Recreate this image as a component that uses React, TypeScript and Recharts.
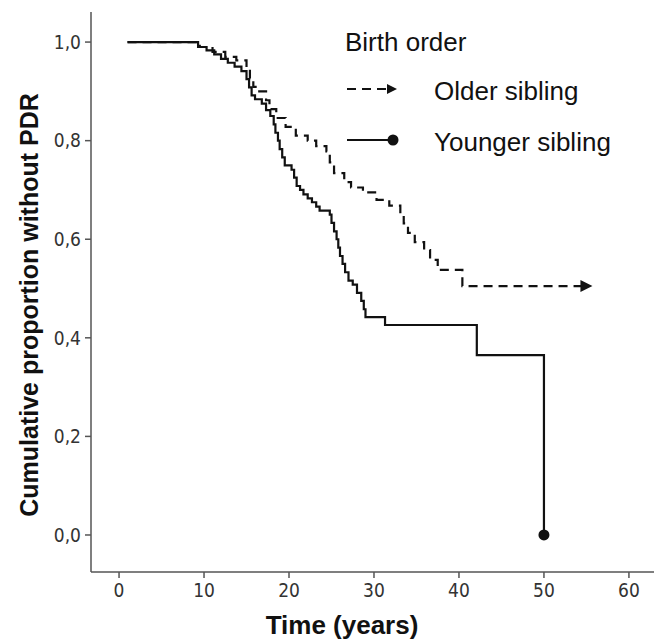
import React from 'react';
import { LineChart, Line, XAxis, YAxis, Legend, Label } from 'recharts';

// Kaplan–Meier steps: time in years, cumulative proportion without PDR
const olderTimes = [1, 9.5, 11.0, 12.5, 13.8, 15.0, 15.4, 15.8, 16.5, 17.3, 17.7, 18.5, 19.6, 20.8, 22.2, 23.2, 24.4, 24.8, 25.3, 26.5, 27.3, 28.7, 30.3, 31.8, 33.1, 33.5, 34.0, 34.8, 35.9, 36.6, 37.5, 40.4, 55];
const olderSurv = [1.0, 0.99, 0.98, 0.97, 0.963, 0.945, 0.927, 0.909, 0.9, 0.882, 0.864, 0.846, 0.828, 0.81, 0.8, 0.789, 0.778, 0.756, 0.734, 0.716, 0.705, 0.695, 0.68, 0.668, 0.652, 0.632, 0.613, 0.594, 0.578, 0.558, 0.538, 0.505, 0.505];

const youngerTimes = [1, 9.3, 10.3, 11.2, 12.0, 12.8, 13.6, 14.4, 15.0, 15.3, 15.6, 16.0, 16.8, 17.3, 17.8, 18.2, 18.4, 18.7, 18.9, 19.2, 19.5, 20.3, 20.6, 20.9, 21.3, 21.7, 22.2, 22.7, 23.2, 23.6, 24.8, 25.0, 25.3, 25.6, 25.8, 26.0, 26.3, 26.6, 27.0, 27.5, 28.0, 28.5, 28.8, 29.0, 31.3, 42.1, 50];
const youngerSurv = [1.0, 0.99, 0.983, 0.975, 0.966, 0.958, 0.95, 0.941, 0.925, 0.908, 0.892, 0.884, 0.875, 0.862, 0.85, 0.833, 0.816, 0.8, 0.783, 0.766, 0.75, 0.741, 0.725, 0.708, 0.7, 0.691, 0.683, 0.675, 0.666, 0.658, 0.65, 0.633, 0.616, 0.6, 0.583, 0.566, 0.55, 0.533, 0.516, 0.508, 0.491, 0.475, 0.458, 0.442, 0.426, 0.365, 0.0];

const xTicks = [0, 10, 20, 30, 40, 50, 60];
const yTicks = [0, 0.2, 0.4, 0.6, 0.8, 1.0];

const legendTitle = 'Birth order';
const olderName = 'Older sibling';
const youngerName = 'Younger sibling';

const olderData = olderTimes.map((t, i) => ({ t, s: olderSurv[i] }));
const youngerData = youngerTimes.map((t, i) => ({ t, s: youngerSurv[i] }));

const INK = '#111';
const AXIS = '#555';
const tickFont = "'Liberation Sans Narrow', 'DejaVu Sans Condensed', 'Liberation Sans', sans-serif";
const textFont = "'Liberation Sans', Arial, sans-serif";

const fmt = (v: number) => v.toFixed(1).replace('.', ',');

const ArrowEnd = (props: any) => {
  const { cx, cy, index } = props;
  if (index !== olderData.length - 1) return <g key={`o${index}`} />;
  return <polygon key={`o${index}`} points={`${cx - 6},${cy - 6} ${cx + 6},${cy} ${cx - 6},${cy + 6}`} fill={INK} />;
};

const DotEnd = (props: any) => {
  const { cx, cy, index } = props;
  if (index !== youngerData.length - 1) return <g key={`y${index}`} />;
  return <circle key={`y${index}`} cx={cx} cy={cy} r={5.5} fill={INK} />;
};

const LegendBox = () => (
  <svg width={320} height={170} style={{ position: 'absolute', left: 330, top: 0, overflow: 'visible' }}>
    <text x={15} y={51} fontFamily={textFont} fontSize={26} fill={INK}>{legendTitle}</text>
    <line x1={17} y1={89} x2={57} y2={89} stroke={INK} strokeWidth={2} strokeDasharray="9 6" />
    <polygon points="57,84 67,89 57,94" fill={INK} />
    <text x={104} y={100} fontFamily={textFont} fontSize={26} fill={INK}>{olderName}</text>
    <line x1={17} y1={140} x2={62} y2={140} stroke={INK} strokeWidth={2} />
    <circle cx={63} cy={140} r={5.5} fill={INK} />
    <text x={104} y={151} fontFamily={textFont} fontSize={26} fill={INK}>{youngerName}</text>
  </svg>
);

export default function App() {
  return (
    <div style={{ position: 'absolute', left: 0, top: 0, width: 654, height: 639, background: '#fff' }}>
      <LineChart width={654} height={639} margin={{ top: 12, right: 0, bottom: 0, left: 0 }}>
        <XAxis
          type="number"
          dataKey="t"
          domain={[-3.3, 62.95]}
          ticks={xTicks}
          allowDataOverflow
          height={67}
          stroke={AXIS}
          strokeWidth={1.5}
          tickSize={6}
          tickMargin={6}
          tick={{ fontFamily: tickFont, fontSize: 19, fill: '#333' }}
        >
          <Label
            value="Time (years)"
            content={() => (
              <text x={342} y={634} textAnchor="middle" fontFamily={textFont} fontWeight="bold" fontSize={26} fill={INK}>
                Time (years)
              </text>
            )}
          />
        </XAxis>
        <YAxis
          type="number"
          dataKey="s"
          domain={[-0.0751, 1.061]}
          ticks={yTicks}
          allowDataOverflow
          width={91}
          stroke={AXIS}
          strokeWidth={1.5}
          tickSize={6}
          tickMargin={4}
          tickFormatter={fmt}
          tick={{ fontFamily: tickFont, fontSize: 19, fill: '#333' }}
        >
          <Label
            value="Cumulative proportion without PDR"
            content={() => (
              <text
                x={0}
                y={0}
                transform="translate(38 305) rotate(-90)"
                textAnchor="middle"
                fontFamily={textFont}
                fontWeight="bold"
                fontSize={25}
                fill={INK}
              >
                Cumulative proportion without PDR
              </text>
            )}
          />
        </YAxis>
        <Legend content={() => <LegendBox />} wrapperStyle={{ position: 'absolute', left: 0, top: 0, width: 0, height: 0 }} />
        <Line
          data={olderData}
          dataKey="s"
          name={olderName}
          type="stepAfter"
          stroke={INK}
          strokeWidth={2.2}
          strokeDasharray="9 6"
          dot={ArrowEnd}
          activeDot={false}
          isAnimationActive={false}
        />
        <Line
          data={youngerData}
          dataKey="s"
          name={youngerName}
          type="stepAfter"
          stroke={INK}
          strokeWidth={2.2}
          dot={DotEnd}
          activeDot={false}
          isAnimationActive={false}
        />
      </LineChart>
    </div>
  );
}
